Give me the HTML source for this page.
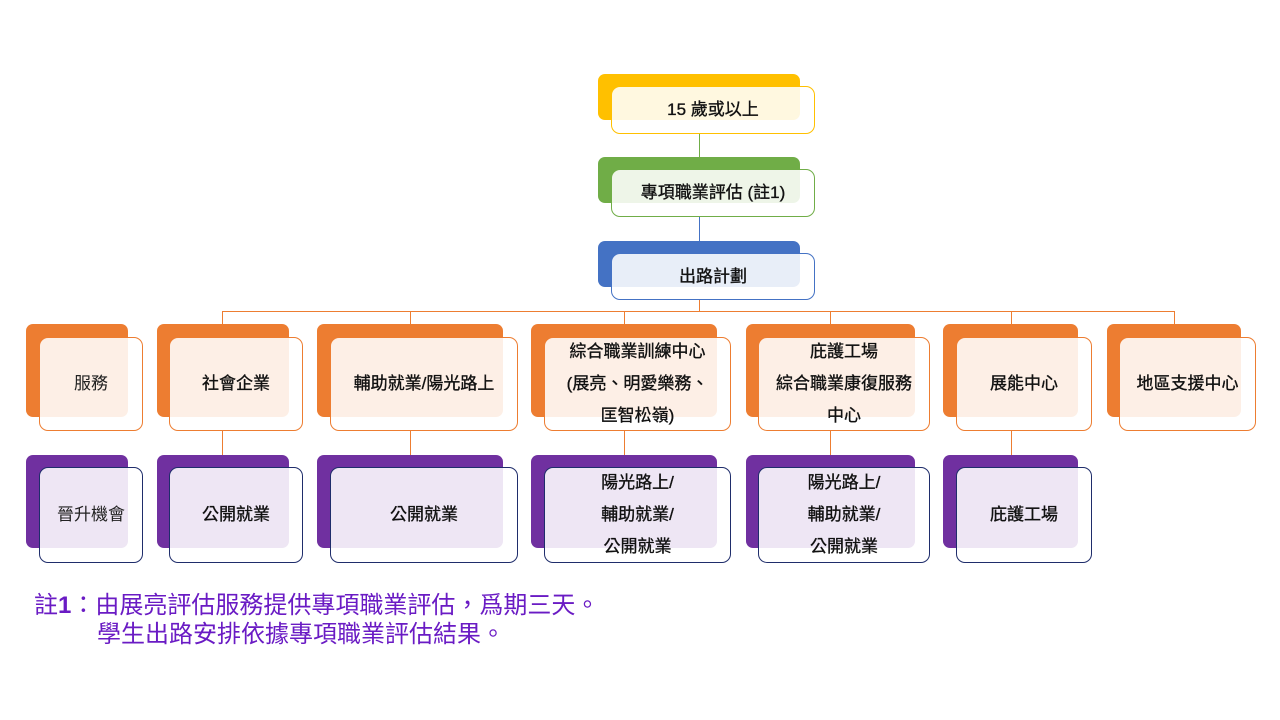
<!DOCTYPE html>
<html><head><meta charset="utf-8"><style>
body{margin:0;width:1280px;height:720px;background:#fff;position:relative;overflow:hidden;font-family:"Liberation Sans","Noto Sans CJK TC",sans-serif}
.b{position:absolute;border-radius:7px}
.f{position:absolute;border-radius:9px;background:rgba(255,255,255,0.88);display:flex;align-items:center;justify-content:center;text-align:center;font-size:17px;font-weight:normal;-webkit-text-stroke:0.35px #111;color:#111;line-height:32px;box-sizing:border-box}
.l{position:absolute;background:#ed7d31}
.n{-webkit-text-stroke:0;color:#222}
</style></head><body>
<div class="l" style="left:699px;top:134px;width:1px;height:35px;background:#70ad47"></div>
<div class="l" style="left:699px;top:217px;width:1px;height:36px;background:#4472c4"></div>
<div class="l" style="left:699px;top:300px;width:1px;height:11px"></div>
<div class="l" style="left:222px;top:311px;width:953px;height:1px"></div>
<div class="l" style="left:222px;top:311px;width:1px;height:13px"></div>
<div class="l" style="left:410px;top:311px;width:1px;height:13px"></div>
<div class="l" style="left:624px;top:311px;width:1px;height:13px"></div>
<div class="l" style="left:830px;top:311px;width:1px;height:13px"></div>
<div class="l" style="left:1011px;top:311px;width:1px;height:13px"></div>
<div class="l" style="left:1174px;top:311px;width:1px;height:13px"></div>
<div class="l" style="left:222px;top:431px;width:1px;height:24px"></div>
<div class="l" style="left:410px;top:431px;width:1px;height:24px"></div>
<div class="l" style="left:624px;top:431px;width:1px;height:24px"></div>
<div class="l" style="left:830px;top:431px;width:1px;height:24px"></div>
<div class="l" style="left:1011px;top:431px;width:1px;height:24px"></div>

<div class="b" style="left:598px;top:74px;width:202px;height:46px;background:#ffc000"></div>
<div class="f" style="left:611px;top:86px;width:204px;height:48px;border:1px solid #ffc000">15 歲或以上</div>
<div class="b" style="left:598px;top:157px;width:202px;height:46px;background:#70ad47"></div>
<div class="f" style="left:611px;top:169px;width:204px;height:48px;border:1px solid #70ad47">專項職業評估 (註1)</div>
<div class="b" style="left:598px;top:241px;width:202px;height:46px;background:#4472c4"></div>
<div class="f" style="left:611px;top:253px;width:204px;height:47px;border:1px solid #4472c4">出路計劃</div>

<div class="b" style="left:26px;top:324px;width:102px;height:93px;background:#ed7d31"></div>
<div class="f n" style="left:39px;top:337px;width:104px;height:94px;border:1px solid #ed7d31">服務</div>
<div class="b" style="left:157px;top:324px;width:132px;height:93px;background:#ed7d31"></div>
<div class="f" style="left:169px;top:337px;width:134px;height:94px;border:1px solid #ed7d31">社會企業</div>
<div class="b" style="left:317px;top:324px;width:186px;height:93px;background:#ed7d31"></div>
<div class="f" style="left:330px;top:337px;width:188px;height:94px;border:1px solid #ed7d31">輔助就業/陽光路上</div>
<div class="b" style="left:531px;top:324px;width:186px;height:93px;background:#ed7d31"></div>
<div class="f" style="left:544px;top:337px;width:187px;height:94px;border:1px solid #ed7d31">綜合職業訓練中心<br>(展亮、明愛樂務、<br>匡智松嶺)</div>
<div class="b" style="left:746px;top:324px;width:169px;height:93px;background:#ed7d31"></div>
<div class="f" style="left:758px;top:337px;width:172px;height:94px;border:1px solid #ed7d31">庇護工場<br>綜合職業康復服務<br>中心</div>
<div class="b" style="left:943px;top:324px;width:135px;height:93px;background:#ed7d31"></div>
<div class="f" style="left:956px;top:337px;width:136px;height:94px;border:1px solid #ed7d31">展能中心</div>
<div class="b" style="left:1107px;top:324px;width:134px;height:93px;background:#ed7d31"></div>
<div class="f" style="left:1119px;top:337px;width:137px;height:94px;border:1px solid #ed7d31">地區支援中心</div>

<div class="b" style="left:26px;top:455px;width:102px;height:93px;background:#7030a0"></div>
<div class="f n" style="left:39px;top:467px;width:104px;height:96px;border:1px solid #1f2d6b">晉升機會</div>
<div class="b" style="left:157px;top:455px;width:132px;height:93px;background:#7030a0"></div>
<div class="f" style="left:169px;top:467px;width:134px;height:96px;border:1px solid #1f2d6b">公開就業</div>
<div class="b" style="left:317px;top:455px;width:186px;height:93px;background:#7030a0"></div>
<div class="f" style="left:330px;top:467px;width:188px;height:96px;border:1px solid #1f2d6b">公開就業</div>
<div class="b" style="left:531px;top:455px;width:186px;height:93px;background:#7030a0"></div>
<div class="f" style="left:544px;top:467px;width:187px;height:96px;border:1px solid #1f2d6b">陽光路上/<br>輔助就業/<br>公開就業</div>
<div class="b" style="left:746px;top:455px;width:169px;height:93px;background:#7030a0"></div>
<div class="f" style="left:758px;top:467px;width:172px;height:96px;border:1px solid #1f2d6b">陽光路上/<br>輔助就業/<br>公開就業</div>
<div class="b" style="left:943px;top:455px;width:135px;height:93px;background:#7030a0"></div>
<div class="f" style="left:956px;top:467px;width:136px;height:96px;border:1px solid #1f2d6b">庇護工場</div>

<div style="position:absolute;left:34px;top:591px;font-size:24px;line-height:29px;color:#6a1bc4;white-space:nowrap">註<b>1</b>：由展亮評估服務提供專項職業評估，爲期三天。<br><span style="padding-left:63px">學生出路安排依據專項職業評估結果。</span></div>
</body></html>
